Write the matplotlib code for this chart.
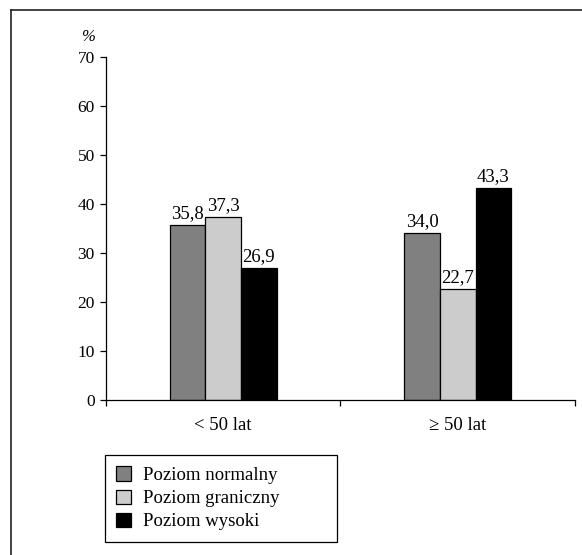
import matplotlib
matplotlib.use("Agg")
import matplotlib.pyplot as plt
from matplotlib.lines import Line2D
import numpy as np

plt.rcParams["font.family"] = ["Liberation Serif", "DejaVu Serif"]
plt.rcParams["font.size"] = 12

groups = ["< 50 lat", "\u2265 50 lat"]
series = ["Poziom normalny", "Poziom graniczny", "Poziom wysoki"]
normalny = [35.8, 34.0]
graniczny = [37.3, 22.7]
wysoki = [26.9, 43.3]
colors = ["#808080", "#cccccc", "#000000"]
yticks = [0, 10, 20, 30, 40, 50, 60, 70]

fig = plt.figure(figsize=(5.82, 5.55), dpi=100)
ax = fig.add_axes([0.1821, 0.2793, 0.8058, 0.618])

centers = np.arange(len(groups)) + 0.5
w = 0.152
for i, (vals, name, c) in enumerate(zip([normalny, graniczny, wysoki], series, colors)):
    x = centers + (i - 1) * w
    bars = ax.bar(x, vals, width=w, color=c, edgecolor="black", linewidth=0.9, label=name)
    for b, v in zip(bars, vals):
        ax.text(b.get_x() + b.get_width() / 2, v + 0.6, f"{v:.1f}".replace(".", ","),
                ha="center", va="bottom", fontsize=13.5)

ax.set_xlim(0, 2)
ax.set_ylim(0, 70)
ax.set_yticks(yticks)
ax.set_xticks([0, 1, 2])
ax.set_xticklabels([])
ax.set_xticks(centers, minor=True)
ax.set_xticklabels(groups, minor=True)
ax.tick_params(axis="x", which="minor", length=0, pad=12, labelsize=13.5)
ax.tick_params(axis="x", which="major", length=4, direction="out", width=0.9)
ax.tick_params(axis="y", length=4, direction="out", width=0.9, pad=4, labelsize=12.5)
for s in ["top", "right"]:
    ax.spines[s].set_visible(False)
for s in ["left", "bottom"]:
    ax.spines[s].set_linewidth(0.9)

fig.text(88 / 582, 1 - 37 / 555, "%", ha="center", va="center", fontsize=12, style="italic")

leg = fig.legend(loc="lower left", bbox_to_anchor=(0.180, 0.0234, 0.399, 0.16),
                 mode="expand", fancybox=False, edgecolor="black", framealpha=1,
                 handlelength=0.78, handleheight=0.78, handletextpad=0.65,
                 labelspacing=0.3, borderpad=0.62, fontsize=13.5, borderaxespad=0)
leg.get_frame().set_linewidth(0.9)

# frame lines around the figure (top and left visible)
fig.add_artist(Line2D([11 / 582, 1], [1 - 10 / 555, 1 - 10 / 555], color="#222222", lw=1.2))
fig.add_artist(Line2D([11 / 582, 11 / 582], [0, 1 - 10 / 555], color="#222222", lw=1.2))

fig.savefig("out.png", dpi=100, facecolor="white")
